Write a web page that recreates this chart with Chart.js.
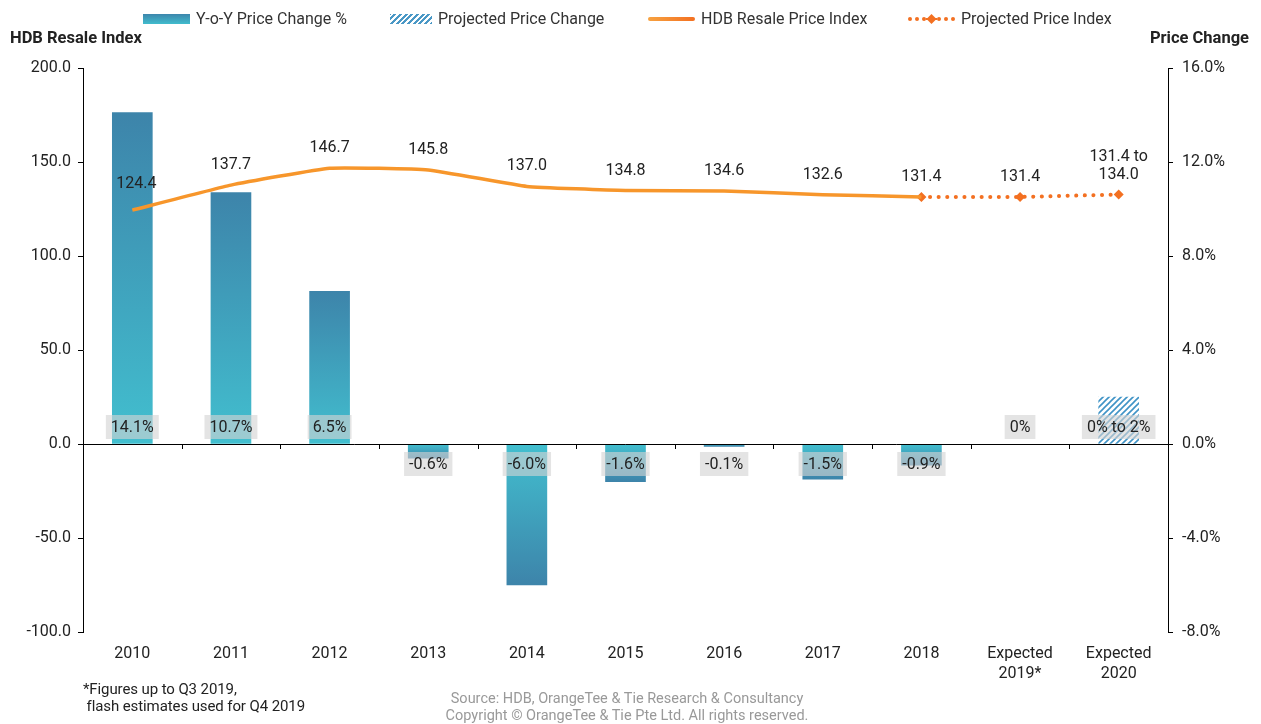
<!DOCTYPE html>
<html>
<head>
<meta charset="utf-8">
<script src="https://cdn.jsdelivr.net/npm/chart.js@4"></script>
<style>
  body { margin: 0; background: #fff; font-family: Roboto, sans-serif; }
  #wrap { position: relative; width: 1261px; height: 724px; }
  #chart { position: absolute; left: 0; top: 0; }
  .txt { position: absolute; color: #222; white-space: nowrap; }
  .axis-title { font-weight: bold; font-size: 16.5px; top: 28px; }
  .leg { position: absolute; top: 9px; display: flex; align-items: center; font-size: 16px; color: #333; }
  .sw { width: 47px; margin-right: 6px; }
  .note { font-size: 15px; color: #222; left: 83px; top: 681px; line-height: 17px; letter-spacing: -0.1px; }
  .src { font-size: 14.5px; color: #999; left: 627px; transform: translateX(-50%); top: 690px; line-height: 17px; text-align: center; }
</style>
</head>
<body>
<div id="wrap">
  <canvas id="chart" width="1261" height="724"></canvas>

  <!-- legend -->
  <div class="leg" style="left:143px"><div class="sw" style="height:10px;background:linear-gradient(#3d86ac,#41bccd)"></div>Y-o-Y Price Change %</div>
  <div class="leg" style="left:390px"><div class="sw" style="width:42px;height:10px;background:repeating-linear-gradient(-45deg,#4a98c6 0 2px,#fff 2px 4px)"></div>Projected Price Change</div>
  <div class="leg" style="left:648px"><div class="sw" style="height:4px;border-radius:2px;background:linear-gradient(90deg,#f7a240,#f37021)"></div>HDB Resale Price Index</div>
  <div class="leg" style="left:908px"><svg class="sw" width="47" height="12" viewBox="0 0 47 12">
    <g fill="#f37021"><circle cx="2" cy="6" r="2"/><circle cx="9" cy="6" r="2"/><circle cx="16" cy="6" r="2"/><circle cx="31" cy="6" r="2"/><circle cx="38" cy="6" r="2"/><circle cx="45" cy="6" r="2"/>
    <rect x="18" y="5" width="11" height="2"/><polygon points="23.5,1 28.5,6 23.5,11 18.5,6"/></g></svg>Projected Price Index</div>

  <div class="txt axis-title" style="left:10px">HDB Resale Index</div>
  <div class="txt axis-title" style="right:12px">Price Change</div>

  <div class="txt note">*Figures up to Q3 2019,<br>&nbsp;flash estimates used for Q4 2019</div>
  <div class="txt src">Source: HDB, OrangeTee &amp; Tie Research &amp; Consultancy<br>Copyright © OrangeTee &amp; Tie Pte Ltd. All rights reserved.</div>
</div>

<script>
// ── data ──────────────────────────────────────────────
const categories = ['2010', '2011', '2012', '2013', '2014', '2015', '2016', '2017', '2018', ['Expected', '2019*'], ['Expected', '2020']];
const priceChange = [14.1, 10.7, 6.5, -0.6, -6.0, -1.6, -0.1, -1.5, -0.9, null, null];
const projectedChange = [null, null, null, null, null, null, null, null, null, null, 2.0];
const resaleIndex = [124.4, 137.7, 146.7, 145.8, 137.0, 134.8, 134.6, 132.6, 131.4, null, null];
const projectedIndex = [null, null, null, null, null, null, null, null, 131.4, 131.4, 132.7];
const changeLabels = ['14.1%', '10.7%', '6.5%', '-0.6%', '-6.0%', '-1.6%', '-0.1%', '-1.5%', '-0.9%', '0%', '0% to 2%'];
const indexLabels = ['124.4', '137.7', '146.7', '145.8', '137.0', '134.8', '134.6', '132.6', '131.4', '131.4', ['131.4 to', '134.0']];
const leftTicks = [-100, -50, 0, 50, 100, 150, 200];
const rightTicks = [-8, -4, 0, 4, 8, 12, 16];

// hatch pattern for projected bar
function hatch() {
    const c = document.createElement('canvas');
    c.width = 6; c.height = 6;
    const g = c.getContext('2d');
    g.fillStyle = '#fff';
    g.fillRect(0, 0, 6, 6);
    g.strokeStyle = '#3f93c6';
    g.lineWidth = 1.6;
    g.beginPath();
    g.moveTo(-1, 7); g.lineTo(7, -1);
    g.moveTo(-4, 4); g.lineTo(4, -4);
    g.moveTo(2, 10); g.lineTo(10, 2);
    g.stroke();
    return g.createPattern(c, 'repeat');
}

// gradient from zero line (light) to bar end (dark)
function barFill(ctx) {
    const chart = ctx.chart;
    if (!chart.chartArea || ctx.raw == null) return '#3fa6c0';
    const s = chart.scales.y1;
    const y0 = s.getPixelForValue(0), y1 = s.getPixelForValue(ctx.raw);
    if (Math.abs(y1 - y0) < 1) return '#3d86ac';
    const gr = chart.ctx.createLinearGradient(0, y0, 0, y1);
    gr.addColorStop(0, '#42bfcf');
    gr.addColorStop(1, '#3d84aa');
    return gr;
}

const labelPlugin = {
    id: 'labels',
    afterDatasetsDraw(chart) {
        const { ctx, chartArea: a } = chart;
        const x = chart.scales.x, y = chart.scales.y, y1 = chart.scales.y1;
        const zero = y1.getPixelForValue(0);
        ctx.save();

        // zero line with category ticks
        ctx.strokeStyle = '#000';
        ctx.lineWidth = 1;
        ctx.beginPath();
        ctx.moveTo(a.left, zero + 0.5);
        ctx.lineTo(a.right, zero + 0.5);
        const w = (a.right - a.left) / categories.length;
        for (let i = 1; i < categories.length; i++) {
            const px = Math.round(a.left + i * w) + 0.5;
            ctx.moveTo(px, zero);
            ctx.lineTo(px, zero + 5);
        }
        ctx.stroke();

        // percentage boxes
        ctx.font = '16px Roboto';
        ctx.textAlign = 'center';
        ctx.textBaseline = 'middle';
        changeLabels.forEach((t, i) => {
            const cx = x.getPixelForValue(i);
            const neg = priceChange[i] != null && priceChange[i] < 0;
            const cy = neg ? zero + 20 : zero - 17;
            const tw = ctx.measureText(t).width + 10;
            ctx.fillStyle = 'rgba(212,212,212,0.62)';
            ctx.fillRect(cx - tw / 2, cy - 12, tw, 24);
            ctx.fillStyle = '#222';
            ctx.fillText(t, cx, cy + 1);
        });

        // index labels
        indexLabels.forEach((t, i) => {
            const v = resaleIndex[i] != null ? resaleIndex[i] : projectedIndex[i];
            const cx = x.getPixelForValue(i);
            const py = y.getPixelForValue(v);
            const lines = Array.isArray(t) ? t : [t];
            const off = i === 0 ? 26 : 20;
            lines.forEach((l, k) => {
                ctx.fillStyle = '#222';
                ctx.fillText(l, cx + (i === 0 ? 4 : 0), py - off - (lines.length - 1 - k) * 18);
            });
        });
        ctx.restore();
    }
};

new Chart(document.getElementById('chart'), {
    type: 'bar',
    data: {
        labels: categories,
        datasets: [
            { type: 'line', label: 'HDB Resale Price Index', data: resaleIndex, yAxisID: 'y', borderColor: '#f7962b', borderWidth: 3.5, pointRadius: 0, tension: 0.12, order: 0 },
            { type: 'line', label: 'Projected Price Index', data: projectedIndex, yAxisID: 'y', borderColor: '#f37021', borderWidth: 4, borderCapStyle: 'round', borderDash: [0.1, 8.5], pointStyle: 'rectRot', pointRadius: 5, pointBackgroundColor: '#f37021', pointBorderWidth: 0, tension: 0, order: 0 },
            { label: 'Y-o-Y Price Change %', data: priceChange, yAxisID: 'y1', backgroundColor: barFill, barThickness: 40, grouped: false, order: 1 },
            { label: 'Projected Price Change', data: projectedChange, yAxisID: 'y1', backgroundColor: hatch(), barThickness: 40, grouped: false, order: 1 }
        ]
    },
    options: {
        responsive: false,
        animation: false,
        layout: { padding: { top: 68, left: 0, right: 0, bottom: 0 } },
        plugins: { legend: { display: false }, tooltip: { enabled: false } },
        scales: {
            x: {
                grid: { display: false },
                border: { display: false },
                ticks: { color: '#222', font: { size: 16, family: 'Roboto', lineHeight: 1.25 }, padding: 4, maxRotation: 0 },
                afterFit: s => { s.height = 92; }
            },
            y: {
                position: 'left', min: -100, max: 200,
                grid: { drawOnChartArea: false, tickLength: 5, color: '#000' },
                border: { color: '#000', width: 1 },
                afterBuildTicks: s => { s.ticks = leftTicks.map(v => ({ value: v })); },
                ticks: { color: '#222', font: { size: 16, family: 'Roboto' }, padding: 7, callback: v => v.toFixed(1) },
                afterFit: s => { s.width = 83; }
            },
            y1: {
                position: 'right', min: -8, max: 16,
                grid: { drawOnChartArea: false, tickLength: 5, color: '#000' },
                border: { color: '#000', width: 1 },
                afterBuildTicks: s => { s.ticks = rightTicks.map(v => ({ value: v })); },
                ticks: { color: '#222', font: { size: 16, family: 'Roboto' }, padding: 9, callback: v => v.toFixed(1) + '%' },
                afterFit: s => { s.width = 93; }
            }
        }
    },
    plugins: [labelPlugin]
});
</script>
</body>
</html>
